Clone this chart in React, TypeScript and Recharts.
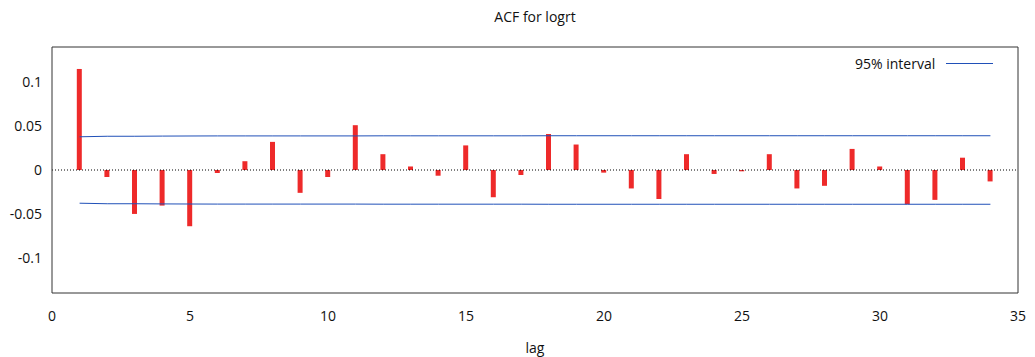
import React from 'react'
import { ComposedChart, Bar, Line, XAxis, YAxis, ReferenceLine } from 'recharts'

// ACF values per lag
const lags = [1, 2, 3, 4, 5, 6, 7, 8, 9, 10, 11, 12, 13, 14, 15, 16, 17, 18, 19, 20, 21, 22, 23, 24, 25, 26, 27, 28, 29, 30, 31, 32, 33, 34]
const acf = [
  0.115, -0.008, -0.05, -0.0405, -0.064, -0.0034, 0.01, 0.032, -0.026, -0.008,
  0.051, 0.018, 0.004, -0.0065, 0.028, -0.031, -0.0057, 0.041, 0.029, -0.003,
  -0.021, -0.033, 0.018, -0.0045, -0.0015, 0.018, -0.021, -0.018, 0.024, 0.004,
  -0.039, -0.034, 0.014, -0.013,
]
// 95% band (Bartlett), upper bound
const band = [
  0.0378, 0.0384, 0.0384, 0.0386, 0.0387, 0.0388, 0.0388, 0.0388, 0.0388, 0.0388,
  0.0388, 0.0389, 0.0389, 0.0389, 0.0389, 0.0389, 0.0389, 0.039, 0.039, 0.039,
  0.039, 0.039, 0.039, 0.039, 0.039, 0.039, 0.039, 0.039, 0.039, 0.039,
  0.039, 0.039, 0.039, 0.039,
]
const xTicks = [0, 5, 10, 15, 20, 25, 30, 35]
const yTicks = [-0.1, -0.05, 0, 0.05, 0.1]

const data = lags.map((lag, i) => ({ lag, acf: acf[i], upper: band[i], lower: -band[i] }))

const FONT = '"Open Sans", sans-serif'
const AXIS = '#333'
const X_DOMAIN = [0, 35]
const Y_DOMAIN = [-0.14, 0.14]

export default function App() {
  return (
    <div style={{ position: 'absolute', left: 0, top: 0, width: 1035, height: 357, background: '#fff', fontFamily: FONT }}>
      <div style={{ position: 'absolute', left: 52, width: 966, top: 7, textAlign: 'center', fontSize: 14, color: '#111' }}>
        ACF for logrt
      </div>
      <div style={{ position: 'absolute', left: 52, width: 966, top: 338, textAlign: 'center', fontSize: 14, color: '#111' }}>
        lag
      </div>
      <div style={{ position: 'absolute', left: 855, top: 54, fontSize: 14, color: '#111', display: 'flex', alignItems: 'center' }}>
        <span>95% interval</span>
        <span style={{ display: 'inline-block', width: 47, height: 1, background: '#2050b8', marginLeft: 11 }} />
      </div>
      <ComposedChart width={1035} height={357} data={data} margin={{ top: 47, right: 17, left: 0, bottom: 0 }}>
        {/* label axes */}
        <XAxis
          xAxisId="b" dataKey="lag" type="number" domain={X_DOMAIN} ticks={xTicks} height={64}
          axisLine={false} tickLine={false} tickMargin={12}
          tick={{ fontSize: 14, fill: '#111', fontFamily: FONT }} allowDataOverflow
        />
        <YAxis
          yAxisId="l" domain={Y_DOMAIN} ticks={yTicks} width={52}
          axisLine={false} tickLine={false} tickMargin={4}
          tickFormatter={(v: number) => String(v)}
          tick={{ fontSize: 14, fill: '#111', fontFamily: FONT }} allowDataOverflow
        />
        {/* frame with inward ticks on all four sides */}
        <XAxis xAxisId="bm" orientation="bottom" mirror type="number" domain={X_DOMAIN} ticks={xTicks}
          axisLine={{ stroke: AXIS }} tickLine={{ stroke: AXIS }} tick={false} allowDataOverflow />
        <XAxis xAxisId="tm" orientation="top" mirror type="number" domain={X_DOMAIN} ticks={xTicks}
          axisLine={{ stroke: AXIS }} tickLine={{ stroke: AXIS }} tick={false} allowDataOverflow />
        <YAxis yAxisId="lm" orientation="left" mirror domain={Y_DOMAIN} ticks={yTicks}
          axisLine={{ stroke: AXIS }} tickLine={{ stroke: AXIS }} tick={false} allowDataOverflow />
        <YAxis yAxisId="rm" orientation="right" mirror domain={Y_DOMAIN} ticks={yTicks}
          axisLine={{ stroke: AXIS }} tickLine={{ stroke: AXIS }} tick={false} allowDataOverflow />

        <ReferenceLine xAxisId="b" yAxisId="l" y={0} stroke="#000" strokeDasharray="1 2" />
        <Line xAxisId="b" yAxisId="l" dataKey="upper" stroke="#2050b8" strokeWidth={1} dot={false} isAnimationActive={false} />
        <Line xAxisId="b" yAxisId="l" dataKey="lower" stroke="#2050b8" strokeWidth={1} dot={false} isAnimationActive={false} />
        <Bar xAxisId="b" yAxisId="l" dataKey="acf" fill="#ee2a2a" barSize={5} isAnimationActive={false} />
      </ComposedChart>
    </div>
  )
}
